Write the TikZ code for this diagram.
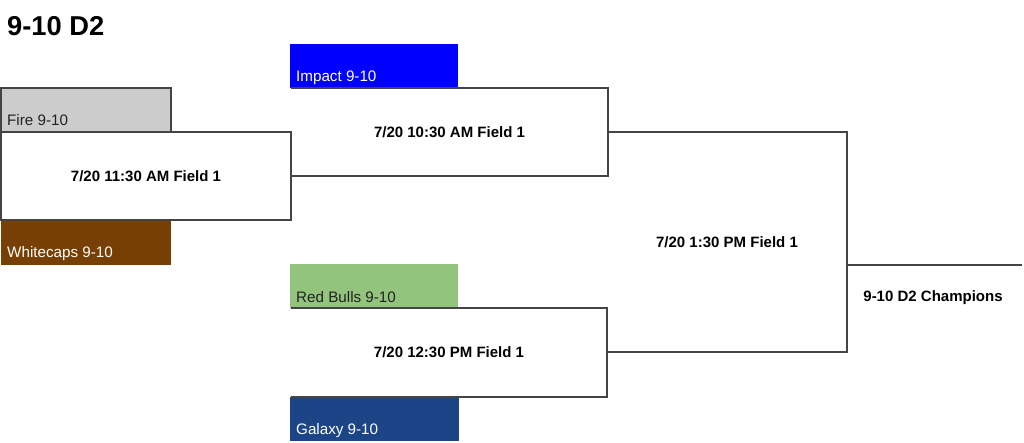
\documentclass[tikz,border=0pt]{standalone}
\usepackage{fontspec}
\setmainfont{Liberation Sans}
\definecolor{firegray}{HTML}{CCCCCC}
\definecolor{whitecaps}{HTML}{783F04}
\definecolor{impact}{HTML}{0000FF}
\definecolor{redbulls}{HTML}{93C47D}
\definecolor{galaxy}{HTML}{1C4587}
\definecolor{linegray}{HTML}{444444}
\definecolor{teamdark}{HTML}{222222}
\begin{document}
\begin{tikzpicture}[x=1pt,y=-1pt,
  box/.style={rectangle, inner sep=0pt, outer sep=0pt, anchor=north west},
  team/.style={box, minimum height=44pt},
  gametxt/.style={font=\bfseries\fontsize{15}{18}\selectfont},
  teamtxt/.style={anchor=base west, inner sep=0pt, font=\fontsize{15.2}{18}\selectfont},
  bracket/.style={draw=linegray, line width=1.3pt}]
\useasboundingbox (0,0) rectangle (1024,443);

% title
\node[anchor=base west, inner sep=0pt, font=\bfseries\fontsize{27.3}{30}\selectfont] (title) at (7,36) {9-10 D2};

% team boxes
\node[team, minimum width=170pt, fill=firegray, draw=linegray, line width=1.3pt] (fire) at (1,88) {};
\node[team, minimum width=170pt, minimum height=45pt, fill=whitecaps] (white) at (1,220) {};
\node[team, minimum width=168pt, fill=impact] (impact) at (290,44) {};
\node[team, minimum width=168pt, fill=redbulls] (redbulls) at (290,264) {};
\node[team, minimum width=169pt, fill=galaxy] (galaxy) at (290,397) {};

\node[teamtxt, text=teamdark] (firet) at ([shift={(6,-6)}]fire.south west) {Fire 9-10};
\node[teamtxt, text=white] (whitet) at ([shift={(6,-7)}]white.south west) {Whitecaps 9-10};
\node[teamtxt, text=white] (impactt) at ([shift={(6,-6)}]impact.south west) {Impact 9-10};
\node[teamtxt, text=teamdark] (redbullst) at ([shift={(6,-6)}]redbulls.south west) {Red Bulls 9-10};
\node[teamtxt, text=white] (galaxyt) at ([shift={(6,-7)}]galaxy.south west) {Galaxy 9-10};

% game boxes
\node[box, minimum width=290pt, minimum height=88pt, gametxt] (g1) at (1,132) {7/20 11:30 AM Field 1};
\node[box, minimum width=317pt, minimum height=88pt, gametxt] (g2) at (291,88) {7/20 10:30 AM Field 1};
\node[box, minimum width=316pt, minimum height=89pt, gametxt] (g3) at (291,308) {7/20 12:30 PM Field 1};
\node[box, minimum width=240pt, minimum height=220pt, gametxt] (g4) at (607,132) {7/20 1:30 PM Field 1};

\draw[bracket] (g1.north west) rectangle (g1.south east);
\draw[bracket] (g2.north west) -| (g2.south east) -- (g2.south west);
\draw[bracket] (g3.north west) -| (g3.south east) -- (g3.south west);
\draw[bracket] (g4.north west) -| (g4.south east) -- (g4.south west);

% champion
\coordinate (ce) at (1022,265);
\draw[bracket] (g4.east |- ce) -- (ce);
\node[gametxt, inner sep=0pt] (champ) at (933,298) {9-10 D2 Champions};
\end{tikzpicture}
\end{document}
